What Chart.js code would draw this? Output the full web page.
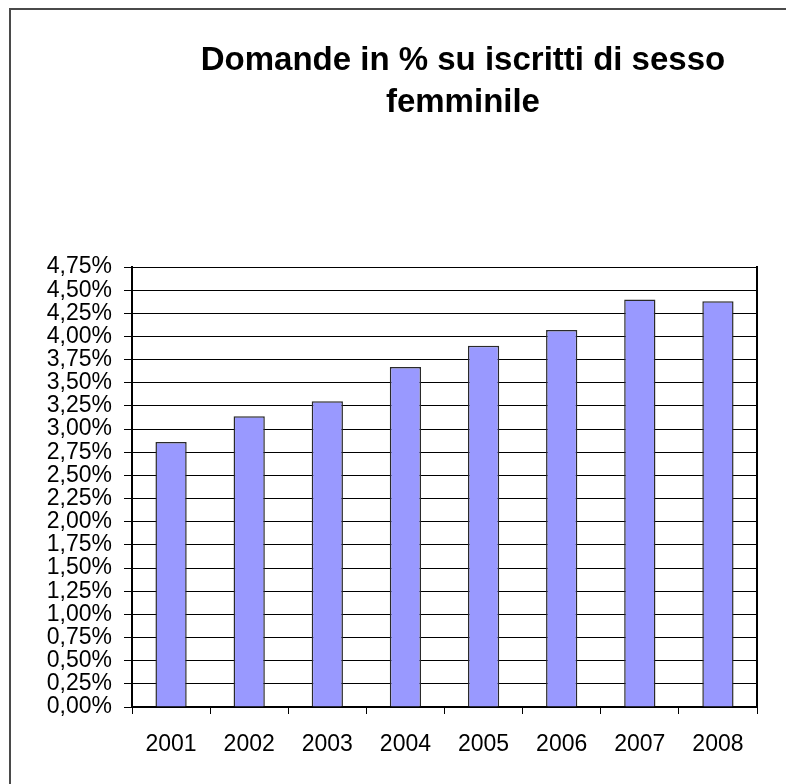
<!DOCTYPE html>
<html>
<head>
<meta charset="utf-8">
<script src="https://cdn.jsdelivr.net/npm/chart.js@4.4.1/dist/chart.umd.min.js"></script>
<style>
  html, body { margin: 0; padding: 0; background: #fff; overflow: hidden; }
  #wrap { position: relative; width: 786px; height: 784px; overflow: hidden; }
  #frame { position: absolute; left: 9px; top: 8px; width: 2000px; height: 2000px;
           border-left: 2px solid #4a4a4a; border-top: 2px solid #4a4a4a; pointer-events: none; }
</style>
</head>
<body>
<div id="wrap">
  <canvas id="myChart" width="786" height="784"></canvas>
  <div id="frame"></div>
</div>
<script>
const years = ['2001', '2002', '2003', '2004', '2005', '2006', '2007', '2008'];
const pctValues = [2.86, 3.14, 3.30, 3.67, 3.90, 4.07, 4.40, 4.38];
const titleLines = ['Domande in % su iscritti di sesso', 'femminile'];
const yMax = 4.75;
const yStep = 0.25;

const fontFam = 'Arial, "Liberation Sans", sans-serif';

// title sits a bit right of the plot centre, like the original sheet
const sheetTitle = {
  id: 'sheetTitle',
  afterDraw(chart) {
    const c = chart.ctx;
    c.save();
    c.fillStyle = '#000';
    c.font = 'bold 33px ' + fontFam;
    c.textAlign = 'center';
    c.textBaseline = 'middle';
    const cx = chart.width * 0.589;
    titleLines.forEach((t, i) => c.fillText(t, cx, 61 + i * 42));
    c.restore();
  }
};

const ctx = document.getElementById('myChart').getContext('2d');
new Chart(ctx, {
  type: 'bar',
  data: {
    labels: years,
    datasets: [{
      data: pctValues,
      backgroundColor: '#9999FF',
      borderColor: '#2a2a2a',
      borderWidth: 1.5,
      barPercentage: 0.4,
      categoryPercentage: 1
    }]
  },
  options: {
    responsive: false,
    animation: false,
    devicePixelRatio: 1,
    layout: { padding: { left: 0, right: 29, top: 267, bottom: 0 } },
    plugins: {
      legend: { display: false },
      tooltip: { enabled: false },
      title: { display: false }
    },
    scales: {
      x: {
        type: 'category',
        grid: { offset: true, drawOnChartArea: false, color: '#000', tickLength: 7, lineWidth: 1 },
        border: { color: '#000', width: 2 },
        ticks: { color: '#000', font: { family: fontFam, size: 23 }, padding: 17, maxRotation: 0, autoSkip: false },
        afterFit: function(scale) { scale.height = 77; }
      },
      y: {
        type: 'linear',
        min: 0,
        max: yMax,
        grid: { color: '#000', tickLength: 8, lineWidth: 1 },
        border: { color: '#000', width: 2 },
        ticks: {
          stepSize: yStep,
          autoSkip: false,
          color: '#000',
          padding: 12,
          font: { family: fontFam, size: 23 },
          callback: function(v) { return v.toFixed(2).replace('.', ',') + '%'; }
        },
        afterFit: function(scale) { scale.width = 132; }
      },
      y2: {
        type: 'linear',
        position: 'right',
        min: 0,
        max: yMax,
        grid: { display: false },
        ticks: { display: false },
        border: { display: true, color: '#000', width: 2 },
        afterFit: function(scale) { scale.width = 0; }
      }
    }
  },
  plugins: [sheetTitle]
});
</script>
</body>
</html>
